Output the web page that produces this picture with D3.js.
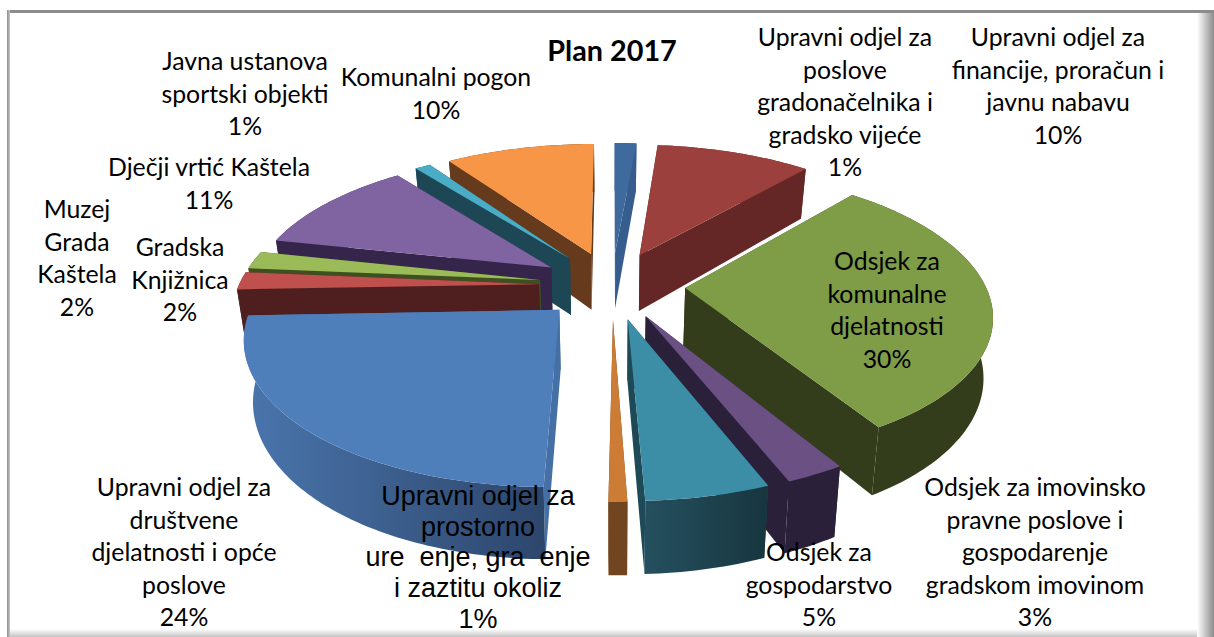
<!DOCTYPE html>
<html>
<head>
<meta charset="utf-8">
<script src="https://cdnjs.cloudflare.com/ajax/libs/d3/7.8.5/d3.min.js"></script>
<style>
  html, body { margin: 0; padding: 0; background: #fff; }
  svg { display: block; }
</style>
</head>
<body>
<div id="chart"></div>
<script>
// data, clockwise from 12 o'clock
const chart_title = "Plan 2017"
const departments = [
    ["Upravni odjel za", "poslove", "gradonačelnika i", "gradsko vijeće"],
    ["Upravni odjel za", "financije, proračun i", "javnu nabavu"],
    ["Odsjek za", "komunalne", "djelatnosti"],
    ["Odsjek za imovinsko", "pravne poslove i", "gospodarenje", "gradskom imovinom"],
    ["Odsjek za", "gospodarstvo"],
    ["Upravni odjel za", "prostorno", "ure  enje, gra  enje", "i zaztitu okoliz"],
    ["Upravni odjel za", "društvene", "djelatnosti i opće", "poslove"],
    ["Gradska", "Knjižnica"],
    ["Muzej", "Grada", "Kaštela"],
    ["Dječji vrtić Kaštela"],
    ["Javna ustanova", "sportski objekti"],
    ["Komunalni pogon"]
]
// labels show them rounded
const shares = [1.4, 10, 30, 2.6, 5.4, 0.8, 24.2, 2, 2, 11, 1, 9.6]

// colours per slice
const top_colors = ["#3f6a9e", "#9c403e", "#7f9c47", "#6a5083", "#3b8ea6", "#cc7c35",
    "#4f7fbb", "#bf504d", "#9bbb59", "#8064a2", "#4bacc6", "#f79646"]
const side_colors = ["#365d8e", "#652725", "#333d1b", "#2a203a", "#1e4a58", "#71451f",
    "#4570a5", "#4e1f1e", "#3f5020", "#36254a", "#1e4755", "#663a1c"]
const wall_from = ["#365d8e", "#652725", "#333d1b", "#2a203a", "#25505f", "#71451f",
    "#4a76ad", "#4e1f1e", "#3f5020", "#36254a", "#1e4755", "#663a1c"]
const wall_to = ["#365d8e", "#652725", "#333d1b", "#2a203a", "#17363f", "#71451f",
    "#2d466c", "#4e1f1e", "#3f5020", "#36254a", "#1e4755", "#663a1c"]

// label anchor: centre x, centre y of first line
const label_at = [[845, 38], [1058, 38], [887, 262], [1035, 488], [819, 553], [478, 497],
    [184, 488], [180, 248], [77, 210], [209, 168], [245, 62], [436, 78]]

const width = 1214, height = 637
const svg = d3.select("#chart").append("svg")
    .attr("width", width).attr("height", height)
    .style("background", "white")
const defs = svg.append("defs")

// frame with the soft shadow on the right and bottom
const fade = (id, x2, y2, c0, c1) => {
    let g = defs.append("linearGradient").attr("id", id)
        .attr("x1", 0).attr("y1", 0).attr("x2", x2).attr("y2", y2)
    g.append("stop").attr("offset", 0).attr("stop-color", c0)
    g.append("stop").attr("offset", 1).attr("stop-color", c1)
}
fade("shade_r", 1, 0, "#ffffff", "#8c8c8c")
fade("shade_b", 0, 1, "#ffffff", "#c4c4c4")
fade("shade_l", 1, 0, "#8c8c8c", "#c8c8c8")
svg.append("rect").attr("x", 7).attr("y", 10).attr("width", 1207).attr("height", 3).attr("fill", "#8c8c8c")
svg.append("rect").attr("x", 7).attr("y", 10).attr("width", 3).attr("height", 627).attr("fill", "url(#shade_l)")
svg.append("rect").attr("x", 10).attr("y", 629).attr("width", 1204).attr("height", 8).attr("fill", "url(#shade_b)")
svg.append("rect").attr("x", 1197).attr("y", 13).attr("width", 17).attr("height", 624).attr("fill", "url(#shade_r)")

// ground plane -> screen, with some perspective
const cx = 612, cy = 285, radius_x = 300, radius_y = 138, persp = 0.168
const thick = 58, burst = 0.244
function project(gx, gy, z) {
    let s = 1 / (1 + persp * gy)
    return [cx + radius_x * gx * s * (1 - 0.025 * z), cy - radius_y * gy * s + thick * z * s]
}

const pie = d3.pie().sort(null).value(d => d)
const arcs = pie(shares).map((a, i) => {
    let mid = (a.startAngle + a.endAngle) / 2
    return { i: i, a0: a.startAngle, a1: a.endAngle, ox: burst * Math.sin(mid), oy: burst * Math.cos(mid) }
})

const line = d3.line()
const slices = svg.append("g")

// back slices first
arcs.slice().sort((p, q) => q.oy - p.oy).forEach(d => {
    const rim = (z) => {
        let n = Math.max(2, Math.ceil((d.a1 - d.a0) / 0.02))
        return d3.range(n + 1).map(k => {
            let t = d.a0 + (d.a1 - d.a0) * k / n
            return project(d.ox + Math.sin(t), d.oy + Math.cos(t), z)
        })
    }
    let apex0 = project(d.ox, d.oy, 0), apex1 = project(d.ox, d.oy, 1)
    let rim0 = rim(0), rim1 = rim(1)
    let g = slices.append("g").attr("class", "slice")

    // radial walls
    ;[[rim0[0], rim1[0]], [rim0[rim0.length - 1], rim1[rim1.length - 1]]].forEach(e => {
        g.append("path").attr("d", line([apex0, e[0], e[1], apex1]) + "Z")
            .attr("fill", side_colors[d.i])
    })

    // outer wall
    let gid = "wall" + d.i
    let xs = d3.extent(rim0, p => p[0])
    let lg = defs.append("linearGradient").attr("id", gid).attr("gradientUnits", "userSpaceOnUse")
        .attr("x1", xs[0]).attr("y1", 0).attr("x2", xs[1]).attr("y2", 0)
    lg.append("stop").attr("offset", 0).attr("stop-color", wall_from[d.i])
    lg.append("stop").attr("offset", 1).attr("stop-color", wall_to[d.i])
    g.append("path").attr("d", line(rim0.concat(rim1.slice().reverse())) + "Z")
        .attr("fill", `url(#${gid})`)

    // top
    g.append("path").attr("d", line([apex0].concat(rim0)) + "Z")
        .attr("fill", top_colors[d.i])
})

// labels
const line_h = 32.5
const labels = svg.append("g").attr("text-anchor", "middle").attr("fill", "#000")
departments.forEach((name, i) => {
    let odd = i === 5 // this one came out in another font in the original
    let step = odd ? 30.7 : line_h
    let t = labels.append("text")
        .attr("font-family", odd ? "'Liberation Sans'" : "Lato, 'Open Sans'")
        .attr("font-size", odd ? 27 : 24.8)
        .style("white-space", "pre")
    name.concat([Math.round(shares[i]) + "%"]).forEach((s, k) => {
        t.append("tspan").attr("x", label_at[i][0]).attr("y", label_at[i][1] + k * step + 8).text(s)
    })
})

svg.append("text").attr("x", 612).attr("y", 61).attr("text-anchor", "middle")
    .attr("font-family", "Lato, 'Open Sans'").attr("font-weight", "bold").attr("font-size", 28.8)
    .text(chart_title)
</script>
</body>
</html>
